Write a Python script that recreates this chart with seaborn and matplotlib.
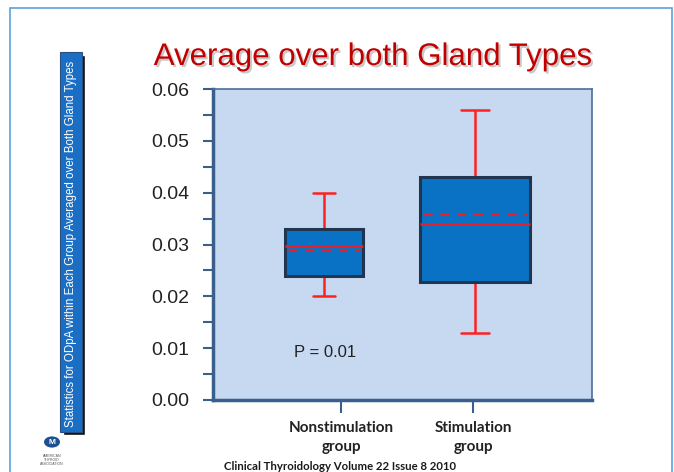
import numpy as np
import pandas as pd
import matplotlib
matplotlib.use("Agg")
import matplotlib.pyplot as plt
import matplotlib.patheffects as pe
from matplotlib.patches import Rectangle, Circle
import seaborn as sns

# ---- data ----
groups = ["Nonstimulation\ngroup", "Stimulation\ngroup"]
whisker_low = [0.020, 0.013]
q1 = [0.024, 0.0228]
median = [0.0298, 0.0340]
q3 = [0.033, 0.043]
whisker_high = [0.040, 0.056]
means = [0.0290, 0.0359]
y_ticks = [0.00, 0.01, 0.02, 0.03, 0.04, 0.05, 0.06]
p_text = "P = 0.01"
title = "Average over both Gland Types"
ylabel = "Statistics for ODpA within Each Group Averaged over Both Gland Types"
footer = "Clinical Thyroidology Volume 22 Issue 8 2010"

sns.set_theme(style="white")
plt.rcParams["font.family"] = ["Liberation Sans", "DejaVu Sans"]

fig = plt.figure(figsize=(6.74, 4.72), dpi=100)
ax = fig.add_axes([213 / 674, 1 - 400 / 472, (592 - 213) / 674, (400 - 89) / 472])
ax.set_facecolor("#c6d9f0")

positions = [0.0, 1.0]
widths = [0.52, 0.73]
cap_half = [0.07, 0.09]
rows = []
for i, g in enumerate(groups):
    for v in (whisker_low[i], q1[i], median[i], q3[i], whisker_high[i]):
        rows.append({"group": g, "pos": positions[i], "value": v})
df = pd.DataFrame(rows)

for i, g in enumerate(groups):
    sub = df[df["group"] == g]
    n_before = len(ax.lines)
    sns.boxplot(
        data=sub, x="pos", y="value", native_scale=True, orient="x",
        width=widths[i], whis=(0, 100), showfliers=False, ax=ax,
        color="#0a72c4", linecolor="#1c3a5c", linewidth=2.2, saturation=1,
        boxprops={"facecolor": "#0a72c4", "edgecolor": "#1f3550", "zorder": 3},
        whiskerprops={"color": "#ff2020", "linewidth": 1.8, "zorder": 2},
        capprops={"color": "#ff2020", "linewidth": 1.8},
        medianprops={"color": "#e8202a", "linewidth": 1.8, "zorder": 4},
    )
    # narrow the caps to match the reference
    for ln in ax.lines[n_before:]:
        xd, yd = np.asarray(ln.get_xdata(), float), np.asarray(ln.get_ydata(), float)
        if len(yd) == 2 and yd[0] == yd[1] and yd[0] in (whisker_low[i], whisker_high[i]):
            ln.set_xdata([positions[i] - cap_half[i], positions[i] + cap_half[i]])
    ax.hlines(means[i], positions[i] - widths[i] / 2 + 0.02, positions[i] + widths[i] / 2 - 0.02,
              colors="#e8202a", linestyles=(0, (3, 2.5)), linewidth=2.2, zorder=5)

ax.set_xlim(-0.735, 1.775)
ax.set_ylim(0, 0.06)
ax.set_yticks(y_ticks)
ax.set_yticklabels([f"{t:.2f}" for t in y_ticks], fontsize=14, color="#222222")
ax.set_yticks(np.arange(0.005, 0.06, 0.01), minor=True)
ax.tick_params(axis="y", which="both", direction="out", length=7, width=1.5,
               color="#3a5f8e", pad=10, left=True)
ax.set_xticks([0.113, 0.987])
ax.set_xticklabels(groups, fontsize=11, fontweight="bold", color="#222222",
                   family=["Lato", "DejaVu Sans"], linespacing=1.45)
ax.tick_params(axis="x", direction="out", length=9, width=1.5, color="#3a5f8e",
               pad=6, bottom=True)
ax.set_xlabel("")
ax.set_ylabel("")
for side in ["left", "bottom"]:
    ax.spines[side].set_color("#3a5f8e")
    ax.spines[side].set_linewidth(2.5)
for side in ["top", "right"]:
    ax.spines[side].set_color("#4a6d99")
    ax.spines[side].set_linewidth(1.2)
ax.grid(False)

ax.text(0.007, 0.0091, p_text, ha="center", va="center", fontsize=12, color="#222222")

# title with soft shadow
fig.text(373 / 674, 1 - 57 / 472, title, ha="center", va="center",
         fontsize=22.5, color="#c00000",
         path_effects=[pe.withSimplePatchShadow(offset=(1.5, -1.5), shadow_rgbFace="#888888", alpha=0.45)])

# vertical y-label box
fig.patches.append(Rectangle((63 / 674, 1 - 435 / 472), 22 / 674, 380 / 472,
                             transform=fig.transFigure, facecolor="#111111", zorder=1))
fig.patches.append(Rectangle((60 / 674, 1 - 432 / 472), 22 / 674, 380 / 472,
                             transform=fig.transFigure, facecolor="#1a6fc4",
                             edgecolor="#2a4f80", linewidth=0.8, zorder=2))
fig.text(71 / 674, 1 - 244 / 472, ylabel, rotation=90, ha="center", va="center",
         fontsize=8.3, color="white", family=["Liberation Sans Narrow", "Liberation Sans", "DejaVu Sans"],
         zorder=3)

# footer
fig.text(340 / 674, 1 - 466 / 472, footer, ha="center", va="center", fontsize=8.2,
         fontweight="bold", color="#1a1a1a", family=["Lato", "DejaVu Sans"])

# logo approximation
fig.patches.append(Circle((52 / 674, 1 - 442 / 472), 8 / 674, transform=fig.transFigure,
                          facecolor="#1d4f91", edgecolor="none"))
fig.text(52 / 674, 1 - 442 / 472, "M", ha="center", va="center", fontsize=6,
         color="white", fontweight="bold")
fig.text(52 / 674, 1 - 460 / 472, "AMERICAN\nTHYROID\nASSOCIATION", ha="center", va="center",
         fontsize=2.5, color="#555555", linespacing=1.1)

# slide frame
fig.patches.append(Rectangle((10 / 674, -0.05), 662 / 674, 1 - 8 / 472 + 0.05,
                             transform=fig.transFigure, facecolor="none",
                             edgecolor="#5aa3db", linewidth=1.2, zorder=0))

fig.savefig("out.png", dpi=100)
